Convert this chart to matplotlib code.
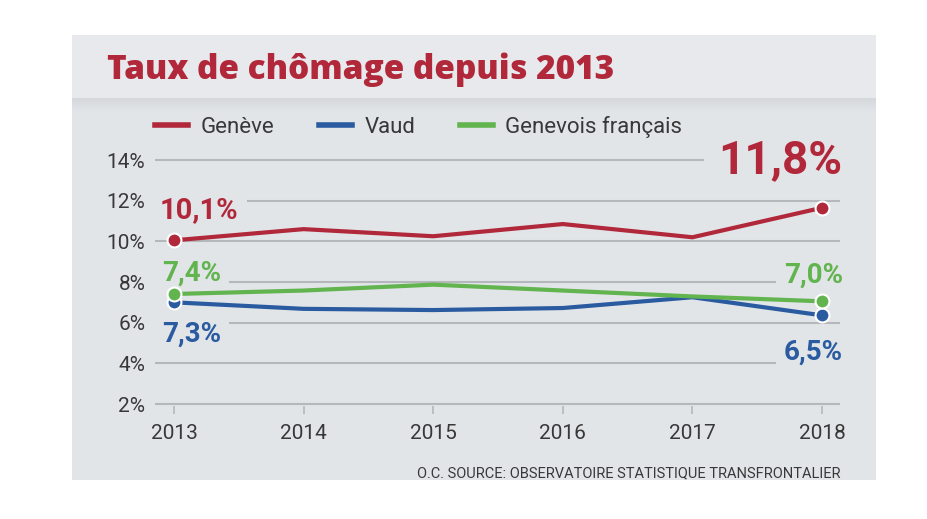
import matplotlib
matplotlib.use("Agg")
import matplotlib.pyplot as plt
import numpy as np
from matplotlib.patches import Rectangle
from matplotlib.lines import Line2D
from matplotlib.colors import LinearSegmentedColormap

# ---------------- data ----------------
years = [2013, 2014, 2015, 2016, 2017, 2018]
geneve = [10.05, 10.6, 10.25, 10.85, 10.2, 11.65]
vaud = [7.0, 6.68, 6.62, 6.72, 7.25, 6.36]
genevois_fr = [7.41, 7.58, 7.87, 7.58, 7.29, 7.05]
series_names = ["Genève", "Vaud", "Genevois français"]
start_labels = ["10,1%", "7,3%", "7,4%"]
end_labels = ["11,8%", "6,5%", "7,0%"]
yticks = [2, 4, 6, 8, 10, 12, 14]
ytick_labels = ["2%", "4%", "6%", "8%", "10%", "12%", "14%"]
title = "Taux de chômage depuis 2013"
source = "O.C. SOURCE: OBSERVATOIRE STATISTIQUE TRANSFRONTALIER"

# ---------------- style ----------------
RED = "#b1283b"
BLUE = "#2a5ba0"
GREEN = "#62b44f"
PANEL = "#e2e5e8"
TITLEBAR = "#e7e9ec"
GRID = "#b4b8bc"
TXT = "#383838"

plt.rcParams["font.family"] = ["Roboto", "DejaVu Sans"]

W, H = 928, 519
fig = plt.figure(figsize=(W / 100, H / 100), dpi=100)
fig.patch.set_facecolor("white")

# background panel
bg = fig.add_axes([0, 0, 1, 1], zorder=-10)
bg.add_patch(Rectangle((72, 35), 804, 445, facecolor=PANEL, edgecolor="none"))
bg.add_patch(Rectangle((72, 35), 804, 63, facecolor=TITLEBAR, edgecolor="none"))
grad = np.linspace(0, 1, 50).reshape(-1, 1)
cm = LinearSegmentedColormap.from_list("sh", ["#d4d8dc", PANEL])
bg.imshow(grad, cmap=cm, extent=(72, 876, 112, 98), aspect="auto", zorder=1)
bg.set_xlim(0, W)
bg.set_ylim(H, 0)
bg.axis("off")

# main axes
x_left, x_right = 155, 840
y_bot, y_top = 406, 150
ax = fig.add_axes([x_left / W, (H - y_bot) / H, (x_right - x_left) / W, (y_bot - y_top) / H])
ax.set_facecolor("none")
pxx = (822 - 174) / 5.0
pxy = (404 - 160) / 12.0
ax.set_xlim(2013 - (174 - x_left) / pxx, 2018 + (x_right - 822) / pxx)
ax.set_ylim(2 - (y_bot - 404) / pxy, 14 + (160 - y_top) / pxy)

for s in ax.spines.values():
    s.set_visible(False)
ax.set_yticks(yticks)
ax.set_yticklabels(ytick_labels)
ax.set_xticks(years)
ax.set_xticklabels([str(y) for y in years])
ax.yaxis.grid(True, color=GRID, linewidth=1.5, zorder=1)
ax.set_axisbelow(True)
ax.tick_params(axis="y", length=0, pad=7, labelsize=15, labelcolor=TXT)
ax.tick_params(axis="x", length=6, width=1.2, color=GRID, direction="out", pad=7,
               labelsize=15, labelcolor=TXT)

data = [(geneve, RED), (vaud, BLUE), (genevois_fr, GREEN)]
for vals, col in data:
    ax.plot(years, vals, color=col, lw=3, solid_capstyle="round", zorder=5,
            marker="o", markevery=[0, len(vals) - 1], ms=10, mfc=col, mec="white", mew=1.5)

# annotations
def lab(text, xy, off, col, size, ha):
    ax.annotate(text, xy=xy, xytext=off, textcoords="offset pixels", ha=ha, va="baseline",
                fontsize=size, fontweight="bold", color=col, zorder=3,
                bbox=dict(boxstyle="square,pad=0.3", facecolor=PANEL, edgecolor="none"))

lab(start_labels[0], (years[0], geneve[0]), (-14, 22), RED, 21, "left")
lab(end_labels[0], (years[-1], geneve[-1]), (20, 35), RED, 33, "right")
lab(start_labels[2], (years[0], genevois_fr[0]), (-12, 13), GREEN, 20, "left")
lab(start_labels[1], (years[0], vaud[0]), (-12, -39), BLUE, 20, "left")
lab(end_labels[2], (years[-1], genevois_fr[-1]), (21, 19), GREEN, 20, "right")
lab(end_labels[1], (years[-1], vaud[-1]), (21, -44), BLUE, 20, "right")

# legend
handles = [Line2D([], [], color=c, lw=4) for _, c in data]
fig.legend(handles, series_names, loc="center left", bbox_to_anchor=(155 / W, 1 - 127 / H),
           ncol=3, frameon=False, fontsize=16, handlelength=1.5, handletextpad=0.55,
           columnspacing=2.0, borderpad=0, borderaxespad=0, labelcolor=TXT)

# title and source
fig.text(107 / W, 1 - 79 / H, title, fontsize=24, fontweight=800, color=RED,
         ha="left", va="baseline", family=["Open Sans", "Roboto", "DejaVu Sans"])
fig.text(841 / W, 1 - 473 / H, source, fontsize=10.5, color=TXT, ha="right", va="center")

fig.savefig("out.png", dpi=100, facecolor="white")
